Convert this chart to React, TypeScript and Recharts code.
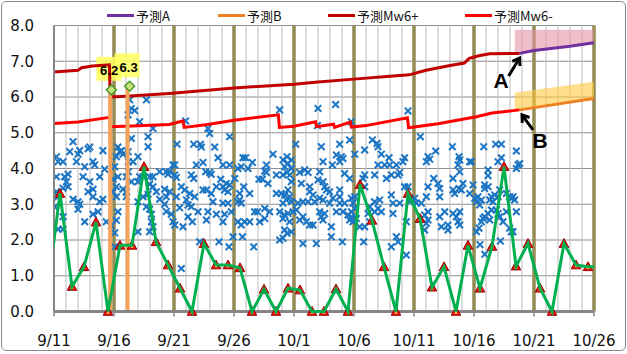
import React from 'react'
import {
  Area,
  CartesianGrid,
  ComposedChart,
  Line,
  ReferenceDot,
  ReferenceLine,
  Scatter,
  XAxis,
  YAxis,
} from 'recharts'

// x = days since 9/11 00:00, y = magnitude
const dateTicks = [0, 5, 10, 15, 20, 25, 30, 35, 40, 45]
const dateLabels = ['9/11', '9/16', '9/21', '9/26', '10/1', '10/6', '10/11', '10/16', '10/21', '10/26']
const magTicks = [0, 1, 2, 3, 4, 5, 6, 7, 8]

// daily value (green), one per day from 9/10 to 10/26, drawn at noon
const dailyMax = [
  0.7, 3.3, 0.7, 1.25, 2.5, 0, 1.85, 1.85, 4.05, 1.95, 1.3, 0.65, 0, 1.9, 1.3, 1.3,
  1.22, 0, 0.62, 0, 0.65, 0.6, 0, 0, 0.63, 0, 3.55, 2.55, 1.25, 0, 3.3, 2.6, 0.68,
  1.25, 0, 1.85, 0.65, 1.82, 4.05, 1.27, 1.9, 0.65, 0, 1.9, 1.3, 1.25, 1.25,
]

// individual events [day, magnitude]
const quakes: [number, number][] = [
  [6.31, 5.92], [7.7, 5.92], [6.45, 5.68], [6.17, 5.5], [6.73, 5.62], [7.14, 5.31], [8.25, 5.12], [7.84, 4.89], [7.84, 4.61], [6.45, 4.84],
  [1.59, 4.75], [1.31, 4.47], [2.0, 4.4], [2.14, 4.5], [2.98, 4.6], [2.84, 4.55], [1.87, 4.19], [0.2, 4.33], [0.34, 4.19], [0.75, 4.19],
  [4.08, 4.5], [5.33, 4.6], [5.47, 4.47], [5.61, 4.5], [5.2, 4.33], [5.75, 4.4], [6.17, 4.47], [7.0, 4.33], [6.2, 4.19], [6.2, 3.91], [6.59, 4.19],
  [3.25, 4.19], [2.56, 4.05], [3.39, 4.1], [0.2, 3.77], [0.89, 3.77], [1.17, 3.84], [2.42, 3.77], [2.98, 3.63], [3.81, 3.77], [4.22, 3.98],
  [5.06, 4.05], [4.92, 3.7], [5.33, 3.77], [6.03, 3.77], [6.45, 3.63], [7.0, 3.63], [7.14, 3.77], [7.42, 3.77], [7.97, 3.77], [8.25, 3.77],
  [8.81, 3.91], [9.36, 3.91], [9.5, 3.84], [9.64, 3.91], [9.92, 4.1],
  [1.17, 3.49], [0.75, 3.45], [0.2, 3.35], [0.34, 3.21], [1.03, 3.63], [2.84, 3.35], [3.25, 3.42], [4.92, 3.35], [5.2, 3.49], [5.75, 3.42],
  [6.03, 3.35], [7.97, 3.56], [8.25, 3.49], [8.53, 3.35], [8.81, 3.14], [7.84, 3.28], [9.22, 3.42], [9.36, 3.21], [9.64, 3.35],
  [0.06, 2.93], [0.75, 2.65], [1.59, 3.14], [2.0, 3.07], [2.0, 2.86], [2.14, 3.0], [3.25, 3.21], [3.81, 3.07], [4.08, 3.14], [5.2, 3.21],
  [6.03, 3.21], [7.42, 3.21], [7.0, 3.07], [7.7, 2.93], [7.97, 2.86], [8.12, 2.72], [9.22, 3.0], [9.36, 2.8], [9.78, 2.72],
  [2.56, 2.51], [3.25, 2.72], [3.67, 2.79], [4.36, 2.51], [4.78, 2.4], [5.33, 2.79], [5.2, 2.55], [5.06, 2.2], [8.12, 2.51], [7.97, 2.23],
  [7.0, 2.23], [8.25, 2.37], [9.92, 2.51], [0.34, 2.3], [0.75, 2.3], [5.06, 1.81],
  [18.81, 5.64], [10.97, 5.33], [12.83, 5.12], [12.97, 4.98], [14.64, 4.89],
  [10.25, 4.68], [11.64, 4.68], [12.2, 4.68], [12.28, 4.6], [13.39, 4.6], [18.25, 4.4],
  [10.06, 4.1], [11.86, 4.1], [12.42, 4.17], [13.67, 4.3], [14.08, 4.1], [14.64, 4.1], [15.75, 4.3], [15.97, 4.3], [15.33, 4.0], [15.6, 4.05],
  [16.17, 4.0], [16.53, 4.17], [17.7, 4.1], [17.56, 3.93], [17.7, 3.89],
  [10.06, 3.82], [10.2, 3.75], [11.44, 3.82], [11.64, 3.72], [12.64, 3.91], [12.97, 3.89], [13.1, 3.84], [13.89, 3.7], [15.06, 3.72],
  [17.08, 3.7], [17.36, 3.7], [17.83, 3.58], [18.53, 3.82], [19.08, 3.82], [19.42, 3.89], [19.22, 4.05], [19.5, 4.14], [19.08, 4.24],
  [19.42, 4.33], [19.78, 4.24], [19.78, 4.0],
  [10.61, 3.49], [10.89, 3.4], [11.31, 3.3], [11.72, 3.21], [10.2, 3.21], [12.42, 3.4], [12.7, 3.4], [13.1, 3.3], [13.53, 3.49], [14.08, 3.49],
  [14.22, 3.4], [14.5, 3.35], [14.64, 3.54], [14.36, 3.58], [15.47, 3.3], [15.81, 3.49], [16.31, 3.3], [18.53, 3.3], [18.94, 3.3],
  [19.22, 3.26], [19.5, 3.4], [19.36, 3.12], [19.78, 3.07], [19.08, 3.03],
  [11.03, 3.12], [11.17, 2.98], [10.47, 2.9], [11.44, 2.93], [12.0, 2.79], [13.25, 3.07], [14.08, 3.03], [14.5, 3.03], [14.78, 2.79],
  [15.33, 3.07], [15.47, 3.12], [15.6, 3.03], [12.83, 2.79], [13.53, 2.72], [14.22, 2.72], [16.97, 2.79], [16.72, 2.79], [17.56, 2.88],
  [17.97, 2.79], [18.81, 2.79], [19.22, 2.7], [19.5, 2.74], [19.08, 2.6],
  [10.06, 2.42], [10.75, 2.37], [11.53, 2.51], [11.17, 2.65], [12.7, 2.56], [14.08, 2.51], [15.33, 2.51], [15.6, 2.42], [15.89, 2.51],
  [16.31, 2.51], [17.14, 2.51], [17.56, 2.6], [19.22, 2.28], [19.42, 2.19], [19.08, 2.05], [18.81, 2.0],
  [12.14, 1.95], [13.75, 1.95], [14.58, 1.81], [14.92, 2.09], [15.7, 2.09], [16.64, 1.81], [10.61, 1.2],
  [22.0, 5.68], [23.47, 5.79], [29.5, 5.61],
  [21.95, 5.2], [24.78, 5.31], [24.64, 4.8], [23.81, 4.68], [22.28, 4.61], [20.14, 4.68],
  [26.53, 4.8], [26.92, 4.7], [27.0, 4.61], [25.89, 4.52], [25.06, 4.4], [27.28, 4.4], [27.92, 4.3], [29.22, 4.3], [29.08, 4.19],
  [28.81, 3.89], [28.53, 4.1],
  [20.47, 3.89], [20.89, 3.96], [21.17, 3.89], [22.42, 4.19], [23.2, 4.1], [23.81, 4.19], [24.08, 4.28], [23.53, 4.38], [23.94, 4.33],
  [22.14, 3.91], [24.22, 3.86], [24.64, 3.72], [25.89, 3.82], [26.72, 3.82], [27.0, 4.1], [27.56, 4.1], [27.97, 4.1], [27.7, 3.72],
  [28.11, 3.82], [28.67, 3.82],
  [19.64, 3.82], [19.78, 3.63], [20.61, 3.58], [21.31, 3.49], [22.0, 3.68], [22.42, 3.63], [22.56, 3.49], [22.7, 3.4], [21.31, 3.35],
  [21.58, 3.26], [22.14, 3.17], [20.75, 3.07], [20.33, 3.03], [21.17, 3.07], [21.72, 3.07], [22.42, 3.12],
  [23.81, 3.4], [23.81, 3.21], [22.97, 3.03], [23.81, 3.03], [23.53, 2.79], [24.08, 2.79], [24.22, 3.03], [23.25, 3.17], [22.97, 3.35],
  [24.78, 3.17], [25.06, 3.21], [24.92, 3.03], [24.78, 2.79], [24.5, 2.7], [24.78, 2.65], [24.92, 2.51], [25.2, 2.6], [24.64, 2.56], [25.06, 2.88],
  [19.64, 3.21], [19.92, 2.79], [19.64, 2.51], [20.2, 2.84], [20.47, 2.56], [20.75, 2.65], [21.03, 2.51], [21.31, 2.42], [21.58, 2.42],
  [22.28, 2.65], [22.42, 2.56], [22.14, 2.79], [22.56, 2.74], [19.78, 2.23], [20.75, 1.9], [21.86, 1.9],
  [23.11, 2.37], [23.11, 2.09], [24.03, 1.95],
  [25.47, 2.37], [25.89, 2.37], [26.31, 2.51], [26.72, 2.79], [27.0, 2.88], [27.28, 2.79], [27.14, 3.12], [26.72, 3.07], [26.31, 2.93],
  [26.17, 2.74], [25.81, 1.95],
  [28.11, 3.26], [28.25, 3.03], [28.81, 3.03], [28.25, 2.74], [28.53, 2.09], [28.67, 1.95], [28.11, 1.81], [29.36, 1.58], [29.36, 2.51],
  [29.5, 3.49], [29.22, 3.49], [29.64, 3.07], [30.06, 3.17], [25.89, 3.49], [25.75, 3.72],
  [30.53, 4.89], [33.2, 4.61], [31.81, 4.49], [31.17, 4.33], [31.31, 4.26], [31.03, 4.19], [33.75, 4.33], [33.81, 4.24], [33.67, 4.1],
  [33.81, 3.91], [34.64, 4.19], [34.78, 4.19], [35.81, 4.61], [36.81, 4.68], [37.28, 4.68], [38.53, 4.49], [37.28, 4.3], [37.0, 4.19],
  [38.67, 4.1], [38.53, 4.0], [38.81, 4.14], [36.17, 3.96], [36.17, 3.8],
  [31.64, 3.72], [32.0, 3.58], [32.14, 3.44], [32.14, 3.21], [31.17, 3.49], [31.03, 3.21], [33.25, 3.72], [34.08, 3.58], [33.94, 3.4],
  [33.39, 3.3], [33.75, 3.44], [33.25, 3.4], [34.92, 3.54], [34.64, 3.3], [35.06, 3.16], [35.33, 3.21], [35.61, 3.12], [35.2, 3.07],
  [35.47, 2.98], [35.89, 3.54], [35.89, 3.44], [36.17, 3.49], [36.31, 3.12], [36.45, 3.21], [36.58, 3.07], [37.0, 3.21], [36.72, 3.26],
  [37.14, 3.4], [37.7, 3.3], [37.97, 3.21], [38.25, 3.21], [38.11, 3.16], [38.39, 3.12],
  [30.2, 3.03], [30.61, 3.03], [31.17, 2.79], [30.89, 2.7], [31.17, 2.56], [31.03, 2.47], [30.89, 2.28],
  [32.14, 2.65], [32.28, 2.37], [32.56, 2.79], [32.83, 2.42], [32.83, 2.28], [33.25, 2.74], [33.53, 2.65], [33.81, 2.79], [33.67, 2.51],
  [33.81, 2.42],
  [35.2, 2.23], [35.42, 2.33], [35.61, 2.51], [35.75, 2.6], [35.89, 2.65], [36.31, 2.56], [36.17, 2.74], [36.45, 2.84], [36.86, 2.84],
  [37.0, 2.74], [37.14, 2.65], [37.42, 2.51], [37.7, 2.79], [37.97, 2.33], [38.11, 2.23], [38.25, 2.23], [38.53, 2.79], [37.2, 1.97],
  [35.5, 1.87], [35.9, 1.6],
]

// the two M6 events: bar positions, marker positions, magnitudes
const bigBarDays = [4.68, 6.13]
const bigDays = [4.78, 6.3]
const bigMags = [6.2, 6.3]

// 予測Mw6+ / 予測Mw6- curves
const plusDays = [0, 2.0, 2.3, 3.2, 4.62, 4.68, 6.0, 9.6, 15, 20, 22, 25, 28, 29.6, 31, 33, 34.2, 34.6, 35.5, 36.3, 38.8]
const plusVals = [6.7, 6.75, 6.82, 6.87, 6.9, 6.0, 6.02, 6.1, 6.25, 6.36, 6.42, 6.5, 6.58, 6.62, 6.75, 6.88, 6.95, 7.08, 7.16, 7.21, 7.22]
const minusDays = [0, 2, 4.62, 4.68, 6.5, 9.6, 10.75, 10.85, 12.8, 15, 18.7, 18.78, 20, 21.8, 21.88, 23.3, 23.38, 24.7, 24.78, 26, 29.45, 29.55, 32, 35.2, 36.5, 38.8]
const minusVals = [5.26, 5.3, 5.43, 5.17, 5.19, 5.23, 5.33, 5.15, 5.23, 5.35, 5.5, 5.15, 5.18, 5.31, 5.17, 5.24, 5.15, 5.3, 5.16, 5.2, 5.42, 5.14, 5.25, 5.45, 5.55, 5.64]

// 予測A / 予測B and their ranges
const predADays = [38.8, 40, 43, 45]
const predAVals = [7.22, 7.3, 7.42, 7.52]
const predBDays = [38.8, 45]
const predBVals = [5.64, 5.96]
const bandADays = [38.4, 38.8, 40, 43, 45]
const bandALow = [7.22, 7.22, 7.3, 7.42, 7.52]
const bandAHigh = [7.88, 7.88, 7.88, 7.88, 7.88]
const bandBDays = [38.4, 38.8, 45]
const bandBLow = [5.62, 5.64, 5.96]
const bandBHigh = [6.12, 6.14, 6.43]

const dailyData = dailyMax.map((v, i) => ({ d: i - 0.5, v }))
const quakeData = quakes.map(([d, v]) => ({ d, v }))
const bigData = bigDays.map((d, i) => ({ d, v: bigMags[i] }))
const plusData = plusDays.map((d, i) => ({ d, v: plusVals[i] }))
const minusData = minusDays.map((d, i) => ({ d, v: minusVals[i] }))
const predAData = predADays.map((d, i) => ({ d, v: predAVals[i] }))
const predBData = predBDays.map((d, i) => ({ d, v: predBVals[i] }))
const bandAData = bandADays.map((d, i) => ({ d, range: [bandALow[i], bandAHigh[i]] }))
const bandBData = bandBDays.map((d, i) => ({ d, range: [bandBLow[i], bandBHigh[i]] }))

const dayLines = Array.from({ length: 44 }, (_, i) => i + 1).filter((d) => d % 5 !== 0)
const fiveDayLines = dateTicks.slice(1)

const legendItems = [
  { name: '予測A', color: '#7030A0', left: 107 },
  { name: '予測B', color: '#EE8222', left: 218 },
  { name: '予測Mw6+', color: '#C00000', left: 328 },
  { name: '予測Mw6-', color: '#FF0000', left: 465 },
]

const tickStyle = { fill: '#111', fontSize: 15, fontFamily: 'DejaVu Sans' }

function XMark(props: any) {
  const { cx, cy } = props
  return (
    <g stroke="#1B75C4" strokeWidth={2}>
      <line x1={cx - 3.3} y1={cy - 3.3} x2={cx + 3.3} y2={cy + 3.3} />
      <line x1={cx - 3.3} y1={cy + 3.3} x2={cx + 3.3} y2={cy - 3.3} />
    </g>
  )
}

function TriangleDot(props: any) {
  const { cx, cy, payload, index } = props
  if (payload.d < 0 || payload.d > 45) return <g key={index} />
  return (
    <g key={index}>
      <polygon points={`${cx},${cy - 5} ${cx - 4.8},${cy + 3.8} ${cx + 4.8},${cy + 3.8}`} fill="#E8120C" stroke="#9E0000" strokeWidth={1} />
      <polygon points={`${cx},${cy - 0.5} ${cx - 1.6},${cy + 2.3} ${cx + 1.6},${cy + 2.3}`} fill="#FFD34D" />
    </g>
  )
}

function LabelBox(props: any) {
  const { cx, cy } = props
  return <rect x={cx - 15} y={cy - 33} width={25} height={24} fill="#FFFF5E" fillOpacity={0.85} />
}

function BigMark(props: any) {
  const { cx, cy, payload, index } = props
  const shift = index === 0 ? -2.2 : -1
  return (
    <g>
      <polygon points={`${cx},${cy - 5} ${cx + 5},${cy} ${cx},${cy + 5} ${cx - 5},${cy}`} fill="#C9E47A" stroke="#4E9A2F" strokeWidth={1.5} />
      <text x={cx + shift} y={cy - 19} textAnchor="middle" dominantBaseline="central" fontSize={13} fontWeight="bold" fontFamily="Liberation Sans" fill="#000">
        {payload.v.toFixed(1)}
      </text>
    </g>
  )
}

function Pointer(props: any) {
  const { cx, cy, tail, text, textAt } = props
  const tx = cx + tail[0]
  const ty = cy + tail[1]
  const ang = Math.atan2(cy - ty, cx - tx)
  const hl = 8
  const spread = 0.6
  const p1 = [cx - hl * Math.cos(ang - spread), cy - hl * Math.sin(ang - spread)]
  const p2 = [cx - hl * Math.cos(ang + spread), cy - hl * Math.sin(ang + spread)]
  return (
    <g>
      <line x1={tx} y1={ty} x2={cx - 1.5 * Math.cos(ang)} y2={cy - 1.5 * Math.sin(ang)} stroke="#000" strokeWidth={3} />
      <polyline points={`${p1[0]},${p1[1]} ${cx},${cy} ${p2[0]},${p2[1]}`} fill="none" stroke="#000" strokeWidth={3} strokeLinejoin="miter" />
      <text x={cx + textAt[0]} y={cy + textAt[1]} textAnchor="middle" dominantBaseline="central" fontSize={21} fontWeight="bold" fontFamily="Liberation Sans" fill="#000">
        {text}
      </text>
    </g>
  )
}

export default function App() {
  return (
    <div
      style={{
        position: 'absolute',
        left: 0,
        top: 0,
        width: 627,
        height: 354,
        background: '#fff',
      }}
    >
      <div
        style={{
          position: 'absolute',
          left: 1,
          top: 1,
          width: 623,
          height: 348,
          border: '1px solid #8a8a8a',
          borderRadius: 5,
        }}
      />
      <ComposedChart width={627} height={354} margin={{ top: 25.5, right: 33, bottom: 0, left: 0 }}>
        <CartesianGrid vertical={false} stroke="#8f8f8f" zIndex={-100} />
        {dayLines.map((d) => (
          <ReferenceLine key={'g' + d} x={d} stroke="#bdbdbd" strokeWidth={1} zIndex={-100} />
        ))}
        {fiveDayLines.map((d) => (
          <ReferenceLine key={'o' + d} x={d} stroke="#948A54" strokeWidth={3.5} zIndex={-90} />
        ))}
        <XAxis
          type="number"
          dataKey="d"
          domain={[0, 45]}
          allowDataOverflow
          ticks={dateTicks}
          interval={0}
          tickFormatter={(t: number) => dateLabels[dateTicks.indexOf(t)]}
          axisLine={{ stroke: '#868686', strokeWidth: 3 }}
          tickLine={{ stroke: '#868686', strokeWidth: 1.5 }}
          tickSize={5}
          tickMargin={19}
          tick={tickStyle}
          height={42.5}
        />
        <YAxis
          type="number"
          dataKey="v"
          domain={[0, 8]}
          ticks={magTicks}
          interval={0}
          tickFormatter={(t: number) => t.toFixed(1)}
          axisLine={{ stroke: '#868686', strokeWidth: 2 }}
          tickLine={false}
          tickSize={6}
          tickMargin={14}
          tick={tickStyle}
          width={54}
        />
        <Scatter data={bigData} shape={LabelBox} isAnimationActive={false} zIndex={50} />
        <Area data={bandAData} dataKey="range" type="linear" stroke="none" fill="#E293A6" fillOpacity={0.6} isAnimationActive={false} zIndex={100} />
        <Area data={bandBData} dataKey="range" type="linear" stroke="none" fill="#FFC93F" fillOpacity={0.6} isAnimationActive={false} zIndex={100} />
        <Scatter data={quakeData} shape={XMark} isAnimationActive={false} zIndex={150} />
        <Line data={plusData} dataKey="v" type="linear" stroke="#C00000" strokeWidth={3} dot={false} isAnimationActive={false} zIndex={200} />
        <Line data={minusData} dataKey="v" type="linear" stroke="#FF0000" strokeWidth={3} dot={false} isAnimationActive={false} zIndex={200} />
        <Line data={predAData} dataKey="v" type="linear" stroke="#7030A0" strokeWidth={3} dot={false} isAnimationActive={false} zIndex={200} />
        <Line data={predBData} dataKey="v" type="linear" stroke="#EE8222" strokeWidth={3} dot={false} isAnimationActive={false} zIndex={200} />
        {bigBarDays.map((d, i) => (
          <ReferenceLine
            key={'b' + d}
            segment={[{ x: d, y: 0 }, { x: d, y: bigMags[i] }]}
            stroke="#F6A35C"
            strokeWidth={4}
            zIndex={250}
          />
        ))}
        <Line data={dailyData} dataKey="v" type="linear" stroke="#00B050" strokeWidth={3} dot={TriangleDot} isAnimationActive={false} zIndex={700} />
        <Scatter data={bigData} shape={BigMark} isAnimationActive={false} zIndex={800} />
        <ReferenceDot
          x={38.8}
          y={7.09}
          zIndex={900}
          shape={(p: any) => <Pointer cx={p.cx} cy={p.cy} tail={[-11, 18]} text="A" textAt={[-18.5, 22.5]} />}
        />
        <ReferenceDot
          x={39.0}
          y={5.5}
          zIndex={900}
          shape={(p: any) => <Pointer cx={p.cx} cy={p.cy} tail={[11, 15]} text="B" textAt={[18, 25.5]} />}
        />
      </ComposedChart>
      {legendItems.map((item) => (
        <div
          key={item.name}
          style={{
            position: 'absolute',
            left: item.left,
            top: 6,
            height: 18,
            display: 'flex',
            alignItems: 'center',
            fontFamily: '"Noto Sans CJK JP", sans-serif',
            fontSize: 13,
            color: '#111',
            whiteSpace: 'nowrap',
          }}
        >
          <span style={{ display: 'inline-block', width: 27, height: 3, background: item.color, marginRight: 2 }} />
          <span>{item.name}</span>
        </div>
      ))}
    </div>
  )
}
